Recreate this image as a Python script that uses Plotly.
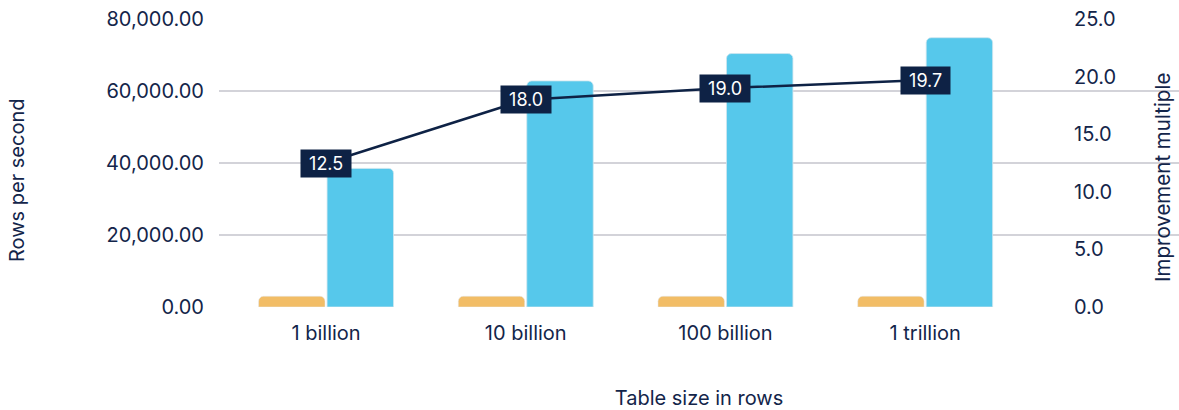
import plotly.graph_objects as go

categories = ["1 billion", "10 billion", "100 billion", "1 trillion"]
baseline_rows = [3000, 3000, 3000, 3000]
improved_rows = [38500, 62800, 70400, 74800]
multiple = [12.5, 18.0, 19.0, 19.7]

NAVY = "#13254a"
FONT = "Inter"
TS = 20

fig = go.Figure()
fig.add_trace(go.Bar(x=categories, y=baseline_rows, marker=dict(color="#f2bd66", cornerradius=5),
                     name="Baseline", showlegend=False))
fig.add_trace(go.Bar(x=categories, y=improved_rows, marker=dict(color="#56c8eb", cornerradius=5,
                     line=dict(color="#cfe6ef", width=0.8)),
                     name="Improved", showlegend=False))
fig.add_trace(go.Scatter(x=categories, y=multiple, yaxis="y2", mode="lines",
                         line=dict(color="#0e2245", width=2.5), showlegend=False))

for c, m in zip(categories, multiple):
    fig.add_annotation(x=c, y=m, yref="y2", text=f"&nbsp;{m:.1f}&nbsp;", showarrow=False,
                       bgcolor="#0e2245", borderpad=3,
                       font=dict(family=FONT, size=18, color="white"))

fig.add_annotation(xref="paper", yref="paper", x=(17 - 219) / 960, y=(307 - 180) / 288,
                   text="Rows per second", xanchor="center",
                   textangle=-90, showarrow=False, font=dict(family=FONT, size=20, color=NAVY))
fig.add_annotation(xref="paper", yref="paper", x=(1163 - 219) / 960, y=(307 - 178) / 288,
                   text="Improvement multiple", xanchor="center",
                   textangle=-90, showarrow=False, font=dict(family=FONT, size=20.5, color=NAVY))

fig.update_layout(
    width=1179, height=410,
    margin=dict(l=219, r=0, t=19, b=103),
    plot_bgcolor="white", paper_bgcolor="white",
    barmode="group", bargap=0.314, bargroupgap=0.03,
    font=dict(family=FONT, color=NAVY, size=TS),
    xaxis=dict(range=[-0.536, 4.271], showgrid=False, showline=False, ticks="",
               ticklabelstandoff=12, automargin=False,
               tickfont=dict(size=TS, color=NAVY),
               title=dict(text="Table size in rows", font=dict(size=20, color=NAVY), standoff=50)),
    yaxis=dict(range=[0, 80000], dtick=20000, tickformat=",.2f", gridcolor="#d3d3d9", gridwidth=1.5,
               zeroline=False, showline=False, ticks="", ticklabelstandoff=14, automargin=False,
               tickfont=dict(size=TS, color=NAVY)),
    yaxis2=dict(range=[0, 25], dtick=5, tickformat=".1f", overlaying="y", anchor="free",
                side="right", position=(1073 - 219) / 960, showgrid=False, zeroline=False,
                showline=False, ticks="", automargin=False, tickfont=dict(size=TS, color=NAVY)),
)

fig.write_html("out.html", config={"displayModeBar": False},
               post_script="document.body.style.margin='0';")
